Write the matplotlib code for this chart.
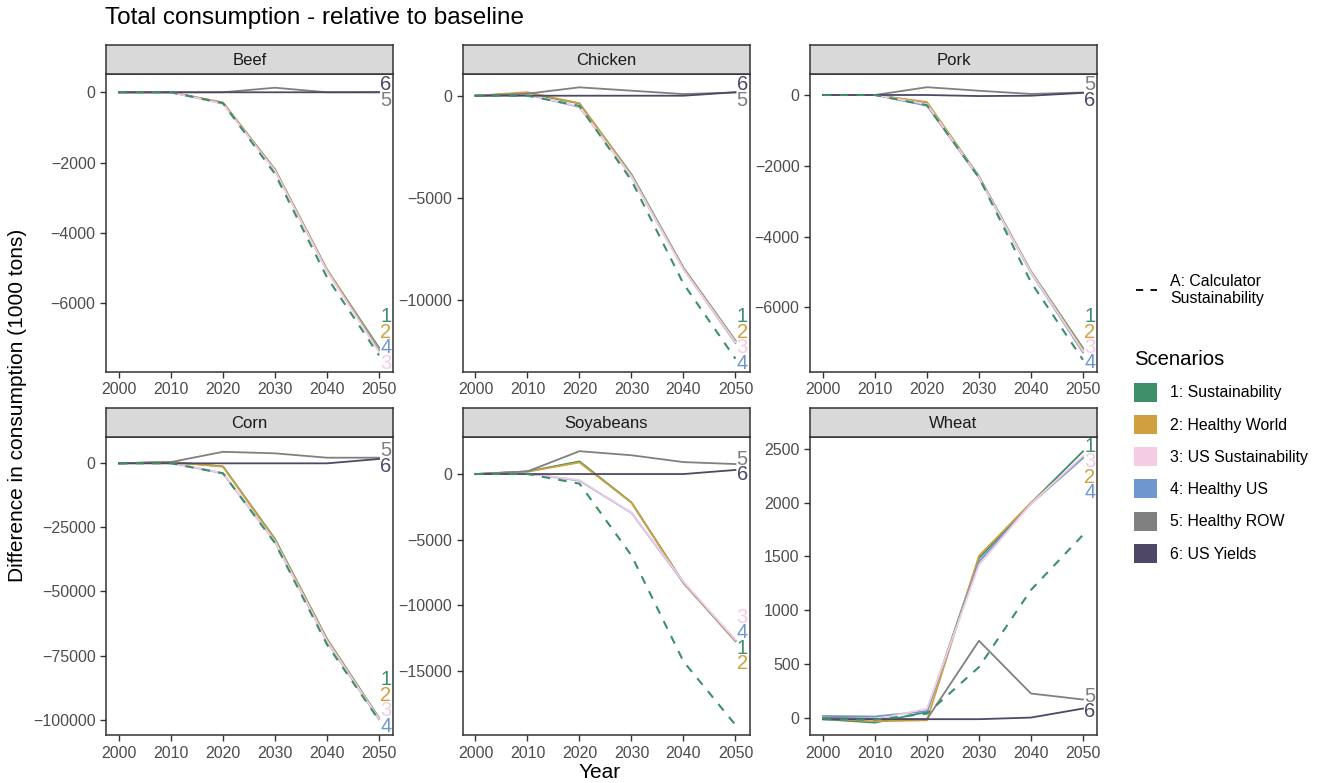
import numpy as np
import matplotlib.pyplot as plt
from matplotlib.lines import Line2D
from matplotlib.patches import Patch

# data (1000 tons, difference to baseline)
years = [2000, 2010, 2020, 2030, 2040, 2050]

scenario_names = ['1: Sustainability', '2: Healthy World', '3: US Sustainability',
                  '4: Healthy US', '5: Healthy ROW', '6: US Yields']
scenario_tags = ['1', '2', '3', '4', '5', '6']
scenario_colors = ['#3d8f6a', '#d0a040', '#f4cce4', '#6f97cf', '#808080', '#4f4766']
draw_rank = [0, 1, 3, 2, 4, 5]  # pink drawn over blue

# rows: scenarios 1..6
beef = [[0, 0, -300, -2200, -5050, -7260],
        [0, 0, -290, -2190, -5030, -7300],
        [0, 0, -330, -2230, -5080, -7380],
        [0, 0, -320, -2220, -5070, -7340],
        [0, 0, 0, 130, 0, -5],
        [0, 0, 0, 0, 0, 5]]
beef_calc = [0, 0, -310, -2320, -5260, -7480]

chicken = [[0, 120, -380, -3850, -8420, -11980],
           [0, 170, -370, -3880, -8440, -12020],
           [0, 80, -540, -3950, -8500, -12060],
           [0, 60, -560, -3940, -8480, -12100],
           [0, 100, 410, 245, 80, 160],
           [0, 0, 0, 0, 0, 170]]
chicken_calc = [0, 0, -500, -4150, -9200, -12870]

pork = [[0, 0, -220, -2300, -4980, -7150],
        [0, 0, -200, -2310, -4990, -7190],
        [0, 0, -260, -2330, -5010, -7230],
        [0, 0, -300, -2340, -5020, -7270],
        [0, 0, 220, 120, 30, 70],
        [0, 0, 0, -30, -20, 60]]
pork_calc = [0, 0, -290, -2330, -5290, -7480]

corn = [[0, 500, -1200, -29500, -68500, -99300],
        [0, 600, -1300, -29800, -68700, -99500],
        [0, 300, -3800, -30500, -69300, -99700],
        [0, 200, -3900, -30600, -69500, -99900],
        [0, 500, 4500, 3900, 2200, 2200],
        [0, 0, 0, 0, 0, 1700]]
corn_calc = [0, 0, -3900, -31100, -70700, -100200]

soy = [[0, 200, 960, -2160, -8280, -12700],
       [0, 180, 880, -2180, -8300, -12740],
       [0, 50, -470, -2940, -8200, -12620],
       [0, 40, -500, -2960, -8250, -12660],
       [0, 200, 1740, 1430, 910, 760],
       [0, 0, 0, 0, 0, 310]]
soy_calc = [0, 0, -730, -6200, -14270, -19100]

wheat = [[-15, -47, 52, 1483, 1997, 2478],
         [-10, -35, -25, 1505, 2000, 2425],
         [0, -20, 84, 1420, 1990, 2435],
         [15, 10, 60, 1450, 1990, 2415],
         [0, -10, -15, 715, 224, 168],
         [-15, -15, -15, -15, 0, 84]]
wheat_calc = [-15, -20, 37, 470, 1188, 1700]

panels = [('Beef', beef, beef_calc, (-7954, 520), [0, -2000, -4000, -6000]),
          ('Chicken', chicken, chicken_calc, (-13518, 1062), [0, -5000, -10000]),
          ('Pork', pork, pork_calc, (-7825, 593), [0, -2000, -4000, -6000]),
          ('Corn', corn, corn_calc, (-106130, 10160), [0, -25000, -50000, -75000, -100000]),
          ('Soyabeans', soy, soy_calc, (-19890, 2797), [0, -5000, -10000, -15000]),
          ('Wheat', wheat, wheat_calc, (-165, 2609), [0, 500, 1000, 1500, 2000, 2500])]

W, H = 1320, 783
fig = plt.figure(figsize=(W / 100, H / 100), dpi=100)
plt.rcParams['font.family'] = ['Liberation Sans', 'DejaVu Sans']

col_left = [106, 462.5, 810]
row_top = [74, 437.3]
pan_w, pan_h = 287, 298
strip_h = 29
border = '#333333'


def spread_labels(ax, vals, gap=15.5, margin=9):
    # push end labels apart in pixel space, keep them inside the panel
    tr = ax.transData
    py = np.array([tr.transform((2050, v))[1] for v in vals])
    bb = ax.get_window_extent()
    lo, hi = bb.y0 + margin, bb.y1 - margin
    order = np.argsort(-py, kind='stable')
    pos = py.copy()
    for _ in range(300):
        for a, b in zip(order[:-1], order[1:]):
            d = pos[a] - pos[b]
            if d < gap:
                pos[a] += (gap - d) / 2
                pos[b] -= (gap - d) / 2
        pos = np.clip(pos, lo, hi)
    inv = tr.inverted()
    return [inv.transform((0, p))[1] for p in pos]


for k, (name, series, calc, ylim, yticks) in enumerate(panels):
    r, c = divmod(k, 3)
    x0, y0 = col_left[c], row_top[r]
    ax = fig.add_axes([x0 / W, 1 - (y0 + pan_h) / H, pan_w / W, pan_h / H])
    sx = fig.add_axes([x0 / W, 1 - y0 / H, pan_w / W, strip_h / H])
    sx.set_facecolor('#d9d9d9')
    sx.set_xticks([]); sx.set_yticks([])
    for s in sx.spines.values():
        s.set_color(border); s.set_linewidth(1.1)
    sx.text(0.5, 0.48, name, ha='center', va='center', fontsize=12, color='#1a1a1a',
            transform=sx.transAxes)

    for i, vals in enumerate(series):
        ax.plot(years, vals, color=scenario_colors[i], lw=1.3, zorder=2 + draw_rank[i] * 0.1)
    ax.plot(years, calc, color=scenario_colors[0], lw=1.5, ls=(0, (4, 4)), zorder=3)

    ax.set_xlim(1997.5, 2052.7)
    ax.set_ylim(*ylim)
    ax.set_xticks(years)
    ax.set_yticks(yticks)
    ax.tick_params(labelsize=11.5, labelcolor='#4d4d4d', color=border, length=4, width=1)
    for s in ax.spines.values():
        s.set_color(border); s.set_linewidth(1.1)

    ends = [v[-1] for v in series]
    lab_y = spread_labels(ax, ends)
    for i, yl in enumerate(lab_y):
        ax.text(2051.3, yl, scenario_tags[i], color=scenario_colors[i], fontsize=14.5,
                ha='center', va='center', zorder=5, clip_on=False)

fig.text(105 / W, 1 - 18 / H, 'Total consumption - relative to baseline', fontsize=17.5,
         ha='left', va='center', color='black')
fig.text(18 / W, 1 - 405 / H, 'Difference in consumption (1000 tons)', fontsize=15,
         rotation=90, ha='center', va='center')
fig.text(600 / W, 1 - 772 / H, 'Year', fontsize=15, ha='center', va='center')

leg1 = fig.legend([Line2D([], [], color='black', lw=1.3, ls=(0, (4, 4)))],
                  ['A: Calculator\nSustainability'],
                  loc='center left', bbox_to_anchor=(1122 / W, 1 - 290 / H), frameon=False,
                  fontsize=11.4, handlelength=1.3, handletextpad=0.85, labelspacing=0.2)
handles = [Patch(facecolor=col, edgecolor='none') for col in scenario_colors]
leg2 = fig.legend(handles, scenario_names, title='Scenarios', loc='upper left',
                  bbox_to_anchor=(1120 / W, 1 - 336 / H), frameon=False, fontsize=11.4,
                  title_fontsize=14.6, handlelength=1.45, handleheight=1.45,
                  labelspacing=0.85, handletextpad=0.8, alignment='left')

fig.savefig('out.png', dpi=100)
